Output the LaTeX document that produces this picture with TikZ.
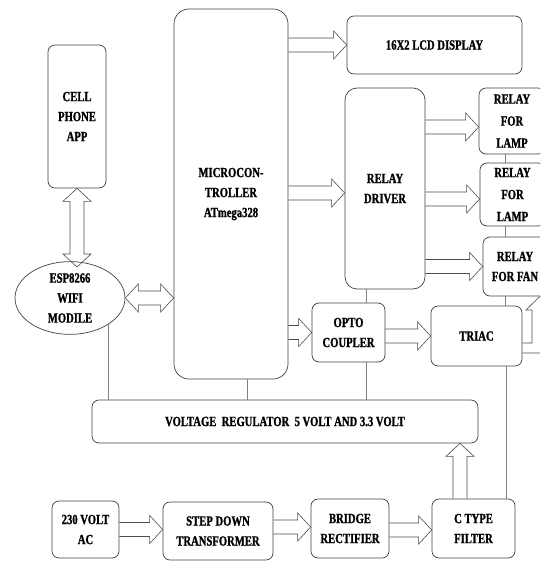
\documentclass[tikz,border=0pt]{standalone}
\usepackage{fontspec}
\setmainfont{Liberation Serif}[FakeStretch=0.76, BoldFeatures={FakeBold=1.2}]
\usepackage{tikz}
\usetikzlibrary{calc, shapes.geometric}

\newcommand{\lab}{\fontsize{14}{20}\selectfont\bfseries}

% hollow block arrow from #1 to #2
\newcommand{\fatarrow}[2]{%
  \coordinate (fas) at #1; \coordinate (fat) at #2;
  \coordinate (fab) at ($(fat)!13pt!(fas)$);
  \draw[blockline] ($(fas)!7pt!90:(fat)$) -- ($(fab)!7pt!90:(fat)$) -- ($(fab)!14pt!90:(fat)$)
    -- (fat) -- ($(fab)!14pt!-90:(fat)$) -- ($(fab)!7pt!-90:(fat)$) -- ($(fas)!7pt!-90:(fat)$);
}
% hollow block arrow with two heads
\newcommand{\dblarrow}[2]{%
  \coordinate (fas) at #1; \coordinate (fat) at #2;
  \coordinate (fab) at ($(fat)!13pt!(fas)$);
  \coordinate (faa) at ($(fas)!13pt!(fat)$);
  \draw[blockline] (fas) -- ($(faa)!14pt!90:(fat)$) -- ($(faa)!7pt!90:(fat)$) -- ($(fab)!7pt!90:(fat)$)
    -- ($(fab)!14pt!90:(fat)$) -- (fat) -- ($(fab)!14pt!-90:(fat)$) -- ($(fab)!7pt!-90:(fat)$)
    -- ($(faa)!7pt!-90:(fat)$) -- ($(faa)!14pt!-90:(fat)$) -- cycle;
}

\begin{document}
\begin{tikzpicture}
[x=1pt, y=-1pt,
box/.style={draw=black!75, line width=.7pt, rounded corners=7pt, align=center, font=\lab, inner sep=1pt},
blockline/.style={draw=black!70, line width=.6pt, line join=miter},
wire/.style={draw=black!50, line width=.7pt}]

\useasboundingbox (0,0) rectangle (540,561);
\clip (0,0) rectangle (540,561);

% blocks
\node[box, minimum width=58pt, minimum height=143pt] (phone) at (77,116.5) {CELL\\PHONE\\APP};
\node[box, ellipse, rounded corners=0pt, minimum width=110pt, minimum height=70pt] (esp) at (70,298) {ESP8266\\WIFI\\MODILE};
\node[box, rounded corners=15pt, minimum width=114pt, minimum height=370pt] (mcu) at (231,194) {MICROCON-\\TROLLER\\ATmega328};
\node[box, minimum width=175pt, minimum height=58pt] (lcd) at (434.5,45) {16X2 LCD DISPLAY};
\node[box, rounded corners=12pt, minimum width=80pt, minimum height=201pt] (driver) at (385,188.5) {RELAY\\DRIVER};
\node[box, minimum width=66pt, minimum height=66pt, font=\fontsize{14}{22}\selectfont\bfseries] (lamp1) at (512,121) {RELAY\\FOR\\LAMP};
\node[box, minimum width=65pt, minimum height=63pt, font=\fontsize{14}{22}\selectfont\bfseries] (lamp2) at (512.5,194.5) {RELAY\\FOR\\LAMP};
\node[box, minimum width=64pt, minimum height=59pt] (fan) at (515,266.5) {RELAY\\FOR FAN};
\node[box, minimum width=73pt, minimum height=59pt] (opto) at (348.5,332.5) {OPTO\\COUPLER};
\node[box, minimum width=91pt, minimum height=60pt] (triac) at (476.5,336) {TRIAC};
\node[box, minimum width=386pt, minimum height=43pt] (reg) at (285,421.5) {VOLTAGE~~REGULATOR~~5 VOLT AND 3.3 VOLT};
\node[box, minimum width=67pt, minimum height=57pt] (ac) at (85.5,529.5) {230 VOLT\\AC};
\node[box, minimum width=110pt, minimum height=58pt] (step) at (218,531) {STEP DOWN\\TRANSFORMER};
\node[box, minimum width=78pt, minimum height=59pt] (bridge) at (350,528.5) {BRIDGE\\RECTIFIER};
\node[box, minimum width=83pt, minimum height=59pt] (filter) at (473.5,528.5) {C TYPE\\FILTER};

% block arrows
\dblarrow{(phone.south)}{(phone.south |- 0,267)}
\dblarrow{(esp.east)}{(mcu.west |- esp.east)}
\fatarrow{(mcu.east |- lcd.west)}{(lcd.west)}
\fatarrow{(mcu.east |- 0,193)}{(driver.west |- 0,193)}
\fatarrow{(mcu.east |- opto.west)}{(opto.west)}
\fatarrow{(driver.east |- 0,127)}{(lamp1.west |- 0,127)}
\fatarrow{(driver.east |- 0,199)}{(lamp2.west |- 0,199)}
\fatarrow{(driver.east |- fan.west)}{(fan.west)}
\fatarrow{(opto.east |- triac.west)}{(triac.west)}
\fatarrow{(ac.east)}{(step.west |- ac.east)}
\fatarrow{(step.east |- 0,527)}{(bridge.west |- 0,527)}
\fatarrow{(bridge.east |- 0,530)}{(filter.west |- 0,530)}
\fatarrow{(460,0 |- filter.north)}{(460,0 |- reg.south)}
% triac to fan, bent
\draw[blockline] (triac.east |- 0,343) -- (532,343) -- (532,310) -- (526,310) -- (540,0 |- fan.south)
  -- (554,310) -- (548,310) -- (548,353) -- (triac.east |- 0,353);

% supply lines
\draw[wire] (esp.-34) -- (reg.north -| esp.-34);
\draw[wire] (247,0 |- mcu.south) -- (247,0 |- reg.north);
\draw[wire] (366,0 |- driver.south) -- (366,0 |- opto.north);
\draw[wire] (366,0 |- opto.south) -- (366,0 |- reg.north);
\draw[wire] (505,0 |- lamp1.south) -- (505,0 |- lamp2.north);
\draw[wire] (505,0 |- lamp2.south) -- (505,0 |- fan.north);
\draw[wire] (505,0 |- fan.south) -- (505,0 |- triac.north);
\draw[wire] (506,0 |- triac.south) -- (506,0 |- filter.north);
\end{tikzpicture}
\end{document}
